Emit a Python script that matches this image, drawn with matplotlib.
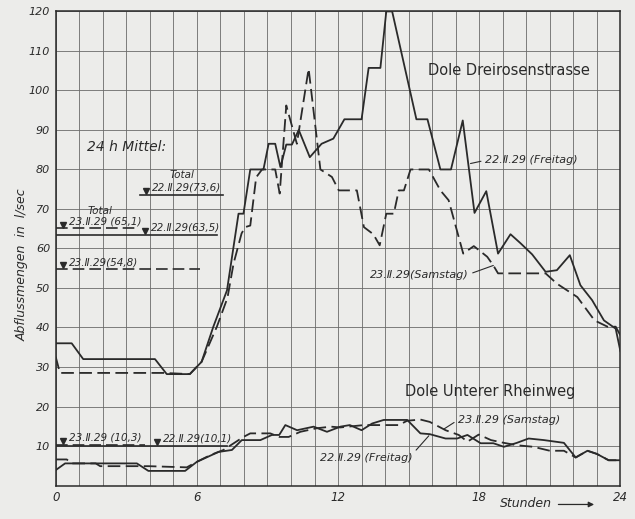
import matplotlib
matplotlib.use('Agg')
import matplotlib.pyplot as plt

# Dole Dreirosenstrasse, 22.II.29 (Freitag)
dr_fr_h = [0, 0.68, 1.17, 4.22, 4.72, 5.7, 6.2, 6.7, 7.28, 7.77, 7.98, 8.27, 8.83, 9.05, 9.33,
           9.55, 9.8, 10.04, 10.33, 10.8, 11.3, 11.8, 12.27, 13.0, 13.3, 13.8, 14.05, 14.3,
           15.33, 15.8, 16.35, 16.8, 17.3, 17.8, 18.3, 18.8, 19.33, 19.76, 20.25, 20.82, 21.3,
           21.85, 22.3, 22.8, 23.3, 23.8, 24]
dr_fr_q = [36, 36, 32, 32, 28.2, 28.2, 31.3, 40.2, 49.4, 68.8, 68.8, 80, 80, 86.5, 86.5,
           80.6, 86.3, 86.3, 90, 83.1, 86.5, 87.8, 92.7, 92.7, 105.7, 105.7, 120, 120,
           92.7, 92.7, 80, 80, 92.4, 69, 74.5, 58.7, 63.6, 61.3, 58.5, 54.1, 54.5,
           58.3, 50.7, 46.9, 41.8, 39.7, 34]

# Dole Dreirosenstrasse, 23.II.29 (Samstag)
dr_sa_h = [0, 0.18, 4.6, 5.7, 6.2, 6.85, 7.3, 7.56, 7.9, 8.05, 8.27, 8.52, 8.77, 9.33, 9.52,
           9.8, 10.25, 10.75, 11.25, 11.74, 12.03, 12.8, 13.1, 13.5, 13.77, 14.05, 14.37,
           14.58, 14.8, 15.08, 15.86, 16.35, 16.7, 17.32, 17.77, 18.34, 18.6, 18.8, 20.82,
           21.3, 22.17, 22.9, 23.45, 23.8, 24]
dr_sa_q = [32.6, 28.5, 28.5, 28.2, 31.3, 40.2, 47.5, 56.2, 63.8, 65.4, 65.8, 78, 80, 80, 73.9,
           96.2, 86.5, 105.5, 80, 78.1, 74.7, 74.7, 65.4, 63.6, 60.8, 68.8, 68.8,
           74.7, 74.7, 80, 80, 74.7, 72.2, 58.7, 60.6, 57.9, 55.7, 53.7, 53.7,
           51.1, 47.7, 41.8, 40.2, 40.2, 38]

# Dole Unterer Rheinweg, 22.II.29 (Freitag)
ur_fr_h = [0, 0.4, 3.45, 3.94, 5.5, 6.0, 6.92, 7.49, 7.91, 8.7, 9.19, 9.5, 9.76, 10.26, 10.96,
           11.53, 12.1, 12.5, 13.0, 13.45, 13.94, 14.94, 15.5, 15.9, 16.57, 17.06, 17.5,
           18.06, 18.6, 19.05, 19.6, 20.1, 20.75, 21.6, 22.1, 22.6, 23.0, 23.5, 24]
ur_fr_q = [3.9, 5.6, 5.6, 3.7, 3.7, 6.0, 8.5, 9.0, 11.5, 11.5, 12.8, 12.8, 15.3, 14.0, 14.9,
           13.6, 14.9, 15.3, 14.0, 15.7, 16.6, 16.6, 13.2, 13.0, 11.9, 11.9, 12.8,
           10.7, 10.7, 9.8, 10.8, 11.9, 11.5, 10.8, 7.1, 8.8, 8.0, 6.4, 6.4]

# Dole Unterer Rheinweg, 23.II.29 (Samstag)
ur_sa_h = [0, 0.47, 0.68, 1.7, 1.89, 3.94, 5.57, 6.0, 6.57, 7.13, 7.98, 8.27, 9.12, 9.5, 9.9,
           10.4, 11.1, 11.7, 12.1, 13.1, 14.58, 14.94, 15.5, 15.9, 16.57, 17.13, 17.5, 17.98,
           18.5, 19.05, 19.6, 20.3, 21.0, 21.6, 22.1, 22.6, 23.0, 23.5, 24]
ur_sa_q = [6.6, 6.6, 5.6, 5.6, 4.9, 4.9, 4.6, 6.0, 7.7, 9.0, 12.3, 13.2, 13.2, 12.3, 12.3,
           13.6, 14.5, 14.9, 14.7, 15.3, 15.3, 16.4, 16.7, 16.1, 14.0, 12.8, 11.1, 12.9,
           11.5, 10.8, 10.2, 9.8, 8.8, 8.8, 7.1, 8.8, 8.0, 6.4, 6.4]

# 24 h Mittel: (wert, strich von, strich bis, marker, beschriftung, gestrichelt)
mittel = [
    (73.6, 3.6, 7.13, 3.84, '22.Ⅱ.29(73,6)', False),
    (65.1, 0.0, 3.55, 0.33, '23.Ⅱ.29 (65,1)', True),
    (63.5, 0.0, 6.85, 3.8, '22.Ⅱ.29(63,5)', False),
    (54.8, 0.0, 6.14, 0.33, '23.Ⅱ.29(54,8)', True),
    (10.3, 0.0, 3.8, 0.33, '23.Ⅱ.29 (10,3)', True),
    (10.1, 0.0, 7.28, 4.3, '22.Ⅱ.29(10,1)', False),
]

x_ticks = [0, 6, 12, 18, 24]
y_ticks = list(range(0, 130, 10))

paper = '#ececea'
ink = '#2a2a2a'
dash = (0, (7, 3))

fig = plt.figure(figsize=(6.35, 5.19), dpi=100, facecolor=paper)
ax = fig.add_axes([0.0877, 0.0645, 0.8893, 0.9135], facecolor=paper)

ax.plot(dr_fr_h, dr_fr_q, color=ink, lw=1.3)
ax.plot(dr_sa_h, dr_sa_q, color=ink, lw=1.3, ls=dash)
ax.plot(ur_fr_h, ur_fr_q, color=ink, lw=1.3)
ax.plot(ur_sa_h, ur_sa_q, color=ink, lw=1.3, ls=dash)

for wert, h0, h1, hm, txt, gestr in mittel:
    ax.plot([h0, h1], [wert, wert], color=ink, lw=1.2, ls=dash if gestr else '-')
    ax.plot(hm, wert + 0.9, marker='v', ms=4, color=ink, ls='none')
    ax.text(hm + 0.25, wert + 0.5, txt, fontsize=7.5, style='italic', color=ink,
            ha='left', va='bottom')

ax.text(5.35, 78.5, 'Total', fontsize=7.5, style='italic', color=ink, ha='center', va='center')
ax.text(1.9, 69.5, 'Total', fontsize=7.5, style='italic', color=ink, ha='center', va='center')
ax.text(1.33, 85.7, '24 h Mittel:', fontsize=10, style='italic', color=ink, ha='left', va='center')

ax.text(15.84, 105, 'Dole Dreirosenstrasse', fontsize=10.5, color=ink, ha='left', va='center')
ax.text(14.86, 23.7, 'Dole Unterer Rheinweg', fontsize=10.5, color=ink, ha='left', va='center')


def leader(rel):
    return dict(arrowstyle='-', color=ink, lw=0.8, shrinkA=1, shrinkB=0, relpos=rel)


ax.annotate('22.Ⅱ.29 (Freitag)', xy=(17.63, 81.5), xytext=(18.25, 82.3), fontsize=8,
            style='italic', color=ink, ha='left', va='center', arrowprops=leader((0, 0.5)))
ax.annotate('23.Ⅱ.29(Samstag)', xy=(18.6, 55.7), xytext=(17.55, 53.2), fontsize=8,
            style='italic', color=ink, ha='right', va='center', arrowprops=leader((1, 0.6)))
ax.annotate('23.Ⅱ.29 (Samstag)', xy=(16.5, 14.3), xytext=(17.1, 16.6), fontsize=8,
            style='italic', color=ink, ha='left', va='center', arrowprops=leader((0, 0.5)))
ax.annotate('22.Ⅱ.29 (Freitag)', xy=(15.86, 12.6), xytext=(15.16, 6.9), fontsize=8,
            style='italic', color=ink, ha='right', va='center', arrowprops=leader((1, 0.9)))

ax.set_xlim(0, 24)
ax.set_ylim(0, 120)
ax.set_xticks(x_ticks)
ax.set_xticklabels([str(t) for t in x_ticks], fontsize=8.5, style='italic', color=ink)
ax.set_xticks(range(25), minor=True)
ax.set_yticks(y_ticks)
ax.set_yticklabels(['' if t == 0 else str(t) for t in y_ticks], fontsize=8, style='italic',
                   color=ink)
ax.tick_params(which='both', length=0, pad=4)
ax.grid(which='both', color='#6a6a6a', lw=0.6)
for s in ax.spines.values():
    s.set_color(ink)
    s.set_linewidth(1.1)

fig.text(0.035, 0.49, 'Abflussmengen  in  l/sec', rotation=90, fontsize=9, style='italic',
         color=ink, ha='center', va='center')
fig.text(0.787, 0.03, 'Stunden', fontsize=9, style='italic', color=ink, ha='left', va='center')
fig.add_artist(matplotlib.patches.FancyArrowPatch((0.875, 0.028), (0.94, 0.028),
               transform=fig.transFigure, arrowstyle='-|>', mutation_scale=8,
               color=ink, lw=0.9))

fig.savefig('out.png', dpi=100, facecolor=paper)
